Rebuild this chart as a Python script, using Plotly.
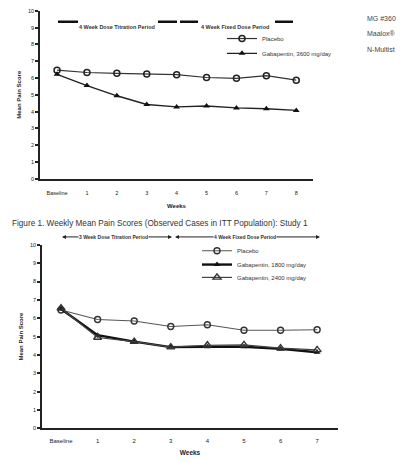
import plotly.graph_objects as go

W, H = 400, 462

# ---------------- data ----------------
weeks_top = ["Baseline", "1", "2", "3", "4", "5", "6", "7", "8"]
placebo_top = [6.47, 6.33, 6.28, 6.24, 6.2, 6.03, 5.98, 6.14, 5.87]
gaba3600_top = [6.22, 5.55, 4.94, 4.42, 4.28, 4.33, 4.22, 4.17, 4.07]

weeks_bot = ["Baseline", "1", "2", "3", "4", "5", "6", "7"]
placebo_bot = [6.45, 5.93, 5.85, 5.55, 5.65, 5.35, 5.35, 5.37]
gaba1800_bot = [6.5, 5.08, 4.73, 4.43, 4.45, 4.45, 4.33, 4.15]
gaba2400_bot = [6.55, 4.95, 4.73, 4.43, 4.53, 4.55, 4.37, 4.28]

yticks = [0, 1, 2, 3, 4, 5, 6, 7, 8, 9, 10]

FONT = "Liberation Sans, Arial, sans-serif"


def px(x):
    return x / W


def py(y):
    return 1 - y / H


fig = go.Figure()

xt = list(range(len(weeks_top)))
xb = list(range(len(weeks_bot)))

fig.add_trace(go.Scatter(
    x=xt, y=placebo_top, name="Placebo", mode="lines+markers",
    line=dict(color="#333", width=1.2),
    marker=dict(symbol="circle-open", size=6, color="#222", line=dict(width=1.5)),
    xaxis="x", yaxis="y", legend="legend"))
fig.add_trace(go.Scatter(
    x=xt, y=gaba3600_top, name="Gabapentin, 3600 mg/day", mode="lines+markers",
    line=dict(color="#222", width=1.4),
    marker=dict(symbol="triangle-up", size=6, color="#111"),
    xaxis="x", yaxis="y", legend="legend2"))

fig.add_trace(go.Scatter(
    x=xb, y=placebo_bot, name="Placebo", mode="lines+markers",
    line=dict(color="#555", width=1.1),
    marker=dict(symbol="circle-open", size=6, color="#333", line=dict(width=1.4)),
    xaxis="x2", yaxis="y2", legend="legend3"))
fig.add_trace(go.Scatter(
    x=xb, y=gaba1800_bot, name="Gabapentin, 1800 mg/day", mode="lines+markers",
    line=dict(color="#111", width=2.4),
    marker=dict(symbol="triangle-up", size=6, color="#111"),
    xaxis="x2", yaxis="y2", legend="legend4"))
fig.add_trace(go.Scatter(
    x=xb, y=gaba2400_bot, name="Gabapentin, 2400 mg/day", mode="lines+markers",
    line=dict(color="#444", width=1.2),
    marker=dict(symbol="triangle-up-open", size=7, color="#333", line=dict(width=1.4)),
    xaxis="x2", yaxis="y2", legend="legend5"))

axis_common = dict(
    showgrid=False, zeroline=False, showline=True, linecolor="#222", linewidth=1.5,
    ticks="outside", ticklen=3, tickwidth=2, tickcolor="#222",
    tickfont=dict(family=FONT, size=5.5, color="#222"),
)


def leg(x, y):
    return dict(x=px(x), y=py(y), xanchor="left", yanchor="middle",
                bgcolor="rgba(0,0,0,0)", font=dict(family=FONT, size=6, color="#333"),
                itemwidth=30, borderwidth=0)


fig.update_layout(
    width=W, height=H,
    margin=dict(l=0, r=0, t=0, b=0),
    paper_bgcolor="white", plot_bgcolor="white",
    font=dict(family=FONT, color="#222"),
    xaxis=dict(axis_common, domain=[px(40), px(313)], range=[-0.57, 8.56],
               tickvals=xt, ticktext=weeks_top, anchor="y", ticks="",
               ticklabelstandoff=8,
               title=dict(text="<b>Weeks</b>", font=dict(size=6), standoff=9)),
    yaxis=dict(axis_common, domain=[py(178), py(8)], range=[0, 10],
               tickvals=yticks, anchor="x",
               title=dict(text="<b>Mean Pain Score</b>", font=dict(size=6), standoff=6)),
    xaxis2=dict(axis_common, domain=[px(42), px(338)], range=[-0.52, 7.57],
                tickvals=xb, ticktext=weeks_bot, anchor="y2", ticks="",
                ticklabelstandoff=6,
                tickfont=dict(family=FONT, size=6, color="#222"),
                title=dict(text="<b>Weeks</b>", font=dict(size=6.5), standoff=7)),
    yaxis2=dict(axis_common, domain=[py(431), py(245)], range=[0, 10],
                tickvals=yticks, anchor="x2",
                title=dict(text="<b>Mean Pain Score</b>", font=dict(size=6), standoff=6)),
    legend=leg(222, 36),
    legend2=leg(222, 51),
    legend3=leg(197, 251),
    legend4=leg(197, 265),
    legend5=leg(197, 278),
    showlegend=True,
)

# ---- period banners (top: thick bars; bottom: arrows) ----
shapes = []
for x0, x1 in [(58, 78), (158, 177), (180, 198), (275, 293)]:
    shapes.append(dict(type="line", xref="paper", yref="paper",
                       x0=px(x0), x1=px(x1), y0=py(19), y1=py(19),
                       line=dict(color="#111", width=2.5)))
fig.update_layout(shapes=shapes)

ann = []
ann.append(dict(text="<b>4 Week Dose Titration Period</b>", x=px(117), y=py(19),
                xref="paper", yref="paper", xanchor="center", showarrow=False,
                font=dict(size=5.5, color="#333")))
ann.append(dict(text="<b>4 Week Fixed Dose Period</b>", x=px(235), y=py(19),
                xref="paper", yref="paper", xanchor="center", showarrow=False,
                font=dict(size=5.5, color="#333")))

# bottom arrows
for (xa, xb_) in [(62, 172), (175, 320)]:
    for tip, tail in [(xa, xb_), (xb_, xa)]:
        ann.append(dict(text="", x=px(tip), y=py(237), xref="paper", yref="paper",
                        ax=(tail - tip) / 2, ay=0, showarrow=True, arrowhead=2,
                        arrowsize=0.8, arrowwidth=1, arrowcolor="#222"))
ann.append(dict(text="<b>3 Week Dose Titration Period</b>", x=px(114), y=py(237),
                xref="paper", yref="paper", xanchor="center", showarrow=False,
                bgcolor="white", borderpad=0, font=dict(size=5, color="#333")))
ann.append(dict(text="<b>4 Week Fixed Dose Period</b>", x=px(245), y=py(237),
                xref="paper", yref="paper", xanchor="center", showarrow=False,
                bgcolor="white", borderpad=0, font=dict(size=5, color="#333")))

# caption
ann.append(dict(text="Figure 1. Weekly Mean Pain Scores (Observed Cases in ITT Population): Study 1",
                x=px(10), y=py(223), xref="paper", yref="paper", xanchor="left",
                showarrow=False, font=dict(size=8.2, color="#333")))

# right-side text (cut at page edge in the source)
for txt, yy in [("MG #360", 10), ("Maalox\u00ae", 25), ("N-Multist", 42)]:
    ann.append(dict(text=txt, x=px(365), y=py(yy), xref="paper", yref="paper",
                    xanchor="left", showarrow=False, font=dict(size=7, color="#444")))

fig.update_layout(annotations=ann)

fig.write_html("out.html")
